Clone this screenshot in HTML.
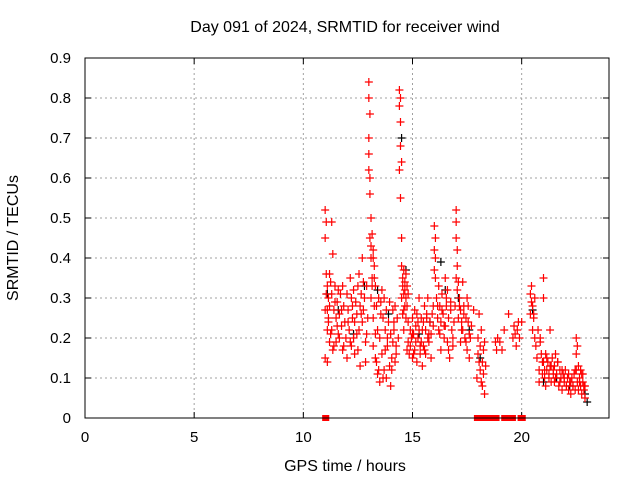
<!DOCTYPE html>
<html><head><meta charset="utf-8"><style>
body{margin:0;background:#fff}
svg{display:block;font-family:"Liberation Sans",sans-serif}
</style></head><body>
<svg id="chart" width="640" height="480">
<text x="345" y="32" font-size="16" text-anchor="middle">Day 091 of 2024, SRMTID for receiver wind</text>
<text x="345" y="471" font-size="16" text-anchor="middle">GPS time / hours</text>
<text x="18" y="238" font-size="16" text-anchor="middle" transform="rotate(-90 18 238)">SRMTID / TECUs</text>
<g id="grid"></g><g id="axes"></g><g id="black"></g><g id="red"></g><g id="zeros"></g>
<rect x="85" y="58" width="524" height="360" fill="none" stroke="#000" stroke-width="1"/>
</svg>
<script>
const xTicks=[0,5,10,15,20];
const yTicks=[0,0.1,0.2,0.3,0.4,0.5,0.6,0.7,0.8,0.9];
const yTickLabels=["0","0.1","0.2","0.3","0.4","0.5","0.6","0.7","0.8","0.9"];
const redHours=[11.0,11.0,11.0,11.0,11.05,11.05,11.1,11.1,11.1,11.15,11.15,11.2,11.2,11.2,11.25,11.3,11.3,11.3,11.35,11.4,11.4,11.45,11.5,11.5,11.55,11.6,11.6,11.65,11.7,11.75,11.8,11.8,11.85,11.9,11.95,12.0,12.0,12.05,12.1,12.15,12.2,12.2,12.25,12.3,12.3,12.35,12.4,12.45,12.5,12.5,12.55,12.6,12.6,12.65,12.7,12.7,12.75,12.8,12.85,12.9,12.9,12.95,
13.0,13.0,13.0,13.0,13.05,13.05,13.05,13.1,13.1,13.1,13.15,13.15,13.2,13.2,13.2,13.25,13.25,13.3,13.3,13.35,13.4,13.4,13.45,13.5,13.5,13.55,13.6,13.6,13.65,13.7,13.7,13.75,13.8,13.8,13.85,13.9,13.95,14.0,14.0,14.05,14.1,14.1,14.15,14.2,14.2,14.25,14.3,14.35,
14.4,14.4,14.4,14.45,14.45,14.45,14.5,14.5,14.5,14.55,14.55,14.6,14.6,14.6,14.65,14.65,14.7,14.7,14.75,14.75,14.8,14.8,14.85,14.9,14.95,15.0,15.0,15.05,15.1,15.1,15.15,15.2,15.2,15.25,15.3,15.3,15.35,15.4,15.4,15.45,15.5,15.5,15.55,15.6,15.6,15.65,15.7,15.7,15.75,15.8,15.85,15.9,15.95,
16.0,16.0,16.0,16.05,16.05,16.1,16.15,16.2,16.2,16.25,16.3,16.3,16.35,16.4,16.45,16.5,16.5,16.55,16.6,16.6,16.65,16.7,16.75,16.8,16.85,16.9,16.95,17.0,17.0,17.0,17.05,17.05,17.1,17.1,17.15,17.2,17.2,17.25,17.3,17.3,17.35,17.4,17.45,17.5,17.5,17.55,17.6,17.6,17.7,17.8,
17.95,18.0,18.0,18.05,18.1,18.1,18.15,18.2,18.2,18.25,18.3,18.3,18.35,18.8,18.85,18.9,19.0,19.1,19.2,19.4,19.6,19.65,19.7,19.75,19.8,19.85,19.9,20.0,
20.4,20.4,20.45,20.5,20.5,20.55,20.6,20.6,20.65,20.7,20.75,20.8,20.8,20.85,20.9,20.95,21.0,21.0,21.0,21.05,21.1,21.1,21.15,21.2,21.25,21.3,21.3,21.35,21.4,21.45,21.5,21.5,21.55,21.6,21.65,21.7,21.75,21.8,21.85,21.9,21.95,22.0,22.05,22.1,22.15,22.2,22.25,22.3,22.35,22.4,22.45,22.5,22.5,22.5,22.55,22.6,22.6,22.65,22.7,22.7,22.75,22.8,22.8,22.85,22.9,22.9,
11.05,11.1,11.15,11.25,11.35,11.45,11.55,11.65,11.75,11.85,12.05,12.15,12.25,12.35,12.45,12.55,12.65,12.75,12.85,13.0,13.05,13.1,13.15,13.2,13.25,13.3,13.35,13.45,13.55,13.65,13.75,13.85,13.95,14.05,14.15,14.25,14.45,14.5,14.55,14.6,14.65,14.7,14.75,14.8,14.9,15.0,15.05,15.15,15.25,15.35,15.45,15.55,15.65,15.75,15.85,15.95,16.05,16.15,16.25,16.35,16.45,16.55,16.65,16.75,16.85,17.0,17.05,17.15,17.25,17.35,17.45,17.55,17.65,18.05,18.15,18.25,20.45,20.55,20.85,20.95,21.05,21.15,21.25,21.35,21.45,21.55,21.65,21.75,21.85,21.95,22.05,22.15,22.25,22.35,22.45,22.55,22.65,22.75,22.85];
const redValues=[0.52,0.45,0.27,0.15,0.49,0.36,0.33,0.22,0.14,0.30,0.24,0.36,0.28,0.19,0.34,0.49,0.31,0.22,0.41,0.27,0.18,0.33,0.25,0.19,0.29,0.32,0.21,0.26,0.31,0.23,0.33,0.17,0.28,0.24,0.20,0.31,0.15,0.27,0.22,0.35,0.30,0.18,0.25,0.32,0.20,0.24,0.29,0.21,0.33,0.17,0.36,0.28,0.13,0.26,0.40,0.24,0.34,0.30,0.14,0.33,0.21,0.25,
0.84,0.80,0.70,0.62,0.76,0.56,0.45,0.50,0.40,0.30,0.46,0.35,0.42,0.25,0.18,0.38,0.28,0.33,0.15,0.28,0.22,0.11,0.30,0.20,0.09,0.26,0.32,0.16,0.25,0.30,0.12,0.22,0.27,0.10,0.18,0.24,0.13,0.21,0.08,0.15,0.27,0.19,0.22,0.28,0.14,0.18,0.25,0.20,
0.82,0.78,0.62,0.74,0.68,0.55,0.45,0.38,0.30,0.35,0.26,0.37,0.31,0.22,0.34,0.28,0.36,0.30,0.28,0.17,0.19,0.24,0.16,0.22,0.20,0.25,0.15,0.21,0.27,0.17,0.23,0.14,0.26,0.20,0.22,0.30,0.16,0.25,0.19,0.13,0.24,0.18,0.28,0.22,0.16,0.25,0.20,0.30,0.19,0.24,0.21,0.26,0.28,
0.48,0.42,0.37,0.45,0.35,0.30,0.25,0.33,0.22,0.28,0.24,0.17,0.31,0.26,0.20,0.35,0.23,0.28,0.32,0.19,0.25,0.15,0.27,0.22,0.18,0.24,0.28,0.52,0.45,0.35,0.42,0.32,0.34,0.25,0.30,0.27,0.19,0.24,0.34,0.22,0.28,0.20,0.25,0.30,0.17,0.24,0.21,0.15,0.23,0.27,
0.10,0.20,0.16,0.26,0.12,0.18,0.22,0.08,0.14,0.11,0.19,0.06,0.13,0.19,0.17,0.20,0.19,0.17,0.22,0.26,0.20,0.23,0.21,0.18,0.22,0.24,0.20,0.24,
0.26,0.31,0.33,0.28,0.22,0.25,0.30,0.20,0.18,0.15,0.22,0.12,0.09,0.20,0.16,0.11,0.35,0.30,0.14,0.10,0.16,0.08,0.12,0.14,0.10,0.13,0.22,0.09,0.15,0.11,0.13,0.09,0.16,0.11,0.14,0.08,0.12,0.10,0.07,0.11,0.09,0.12,0.08,0.10,0.07,0.09,0.06,0.10,0.08,0.11,0.07,0.20,0.16,0.12,0.09,0.13,0.07,0.10,0.08,0.12,0.06,0.09,0.11,0.07,0.08,0.05,
0.31,0.27,0.25,0.21,0.17,0.29,0.23,0.20,0.27,0.18,0.24,0.19,0.28,0.16,0.26,0.22,0.31,0.27,0.19,0.66,0.60,0.43,0.33,0.40,0.35,0.21,0.14,0.12,0.29,0.10,0.17,0.20,0.29,0.12,0.24,0.16,0.80,0.64,0.33,0.27,0.32,0.25,0.33,0.31,0.18,0.21,0.16,0.19,0.24,0.18,0.22,0.17,0.26,0.21,0.15,0.23,0.40,0.28,0.21,0.27,0.23,0.30,0.17,0.29,0.20,0.49,0.38,0.28,0.22,0.26,0.19,0.28,0.20,0.14,0.09,0.17,0.29,0.26,0.19,0.14,0.12,0.15,0.11,0.13,0.12,0.10,0.14,0.09,0.12,0.10,0.08,0.11,0.09,0.08,0.12,0.18,0.09,0.11,0.08];
const blackHours=[11.1,11.6,12.3,12.8,13.4,13.9,14.5,14.7,15.3,15.8,16.3,16.5,17.1,17.6,18.1,20.5,21.0,21.6,22.2,22.9,23.0];
const blackValues=[0.31,0.27,0.21,0.33,0.32,0.26,0.70,0.37,0.21,0.24,0.39,0.32,0.30,0.22,0.15,0.27,0.09,0.10,0.08,0.06,0.04];
const zeroHours=[11.0,11.05,17.95,18.05,18.3,18.4,18.65,18.85,19.2,19.3,19.4,19.6,19.95,20.05];
const X=h=>85+h*(524/24), Y=v=>418-v*400;
const NS="http://www.w3.org/2000/svg";
function mk(t,a,p){const e=document.createElementNS(NS,t);for(const k in a)e.setAttribute(k,a[k]);p.appendChild(e);return e;}
const grid=document.getElementById('grid'),axes=document.getElementById('axes');
xTicks.forEach((t,i)=>{
 if(t>0){const g=mk('line',{x1:X(t),x2:X(t),y1:58,y2:418,stroke:'#a0a0a0','stroke-dasharray':'2,3'},grid);
 
 }
 mk('line',{x1:X(t),x2:X(t),y1:418,y2:412,stroke:'#000'},axes);
 mk('line',{x1:X(t),x2:X(t),y1:58,y2:64,stroke:'#000'},axes);
 const l=mk('text',{x:X(t),y:442,'font-size':15,'text-anchor':'middle'},axes);l.textContent=t;
 
 
});
yTicks.forEach((t,i)=>{
 if(t>0&&t<0.9){const g=mk('line',{x1:85,x2:609,y1:Y(t),y2:Y(t),stroke:'#a0a0a0','stroke-dasharray':'2,3'},grid);
 
 }
 mk('line',{x1:85,x2:91,y1:Y(t),y2:Y(t),stroke:'#000'},axes);
 mk('line',{x1:603,x2:609,y1:Y(t),y2:Y(t),stroke:'#000'},axes);
 const l=mk('text',{x:71,y:Y(t)+5,'font-size':15,'text-anchor':'end'},axes);l.textContent=yTickLabels[i];
 
 
});
function plus(h,v,c,g){const x=X(h),y=Y(v);
 const p=mk('path',{d:`M${x-4},${y}H${x+4}M${x},${y-4}V${y+4}`,stroke:c,'stroke-width':1.2,fill:'none'},g);
 return p;}
const bg=document.getElementById('black'),rg=document.getElementById('red'),zg=document.getElementById('zeros');
blackHours.forEach((h,i)=>{const p=plus(h,blackValues[i],'#000',bg);
 
 });
redHours.forEach((h,i)=>{const p=plus(h,redValues[i],'#ff0000',rg);
 
 });
zeroHours.forEach(h=>{const r=mk('rect',{x:X(h)-3,y:415,width:6,height:6,fill:'#ff0000'},zg);
 
 });
</script>
</body></html>
